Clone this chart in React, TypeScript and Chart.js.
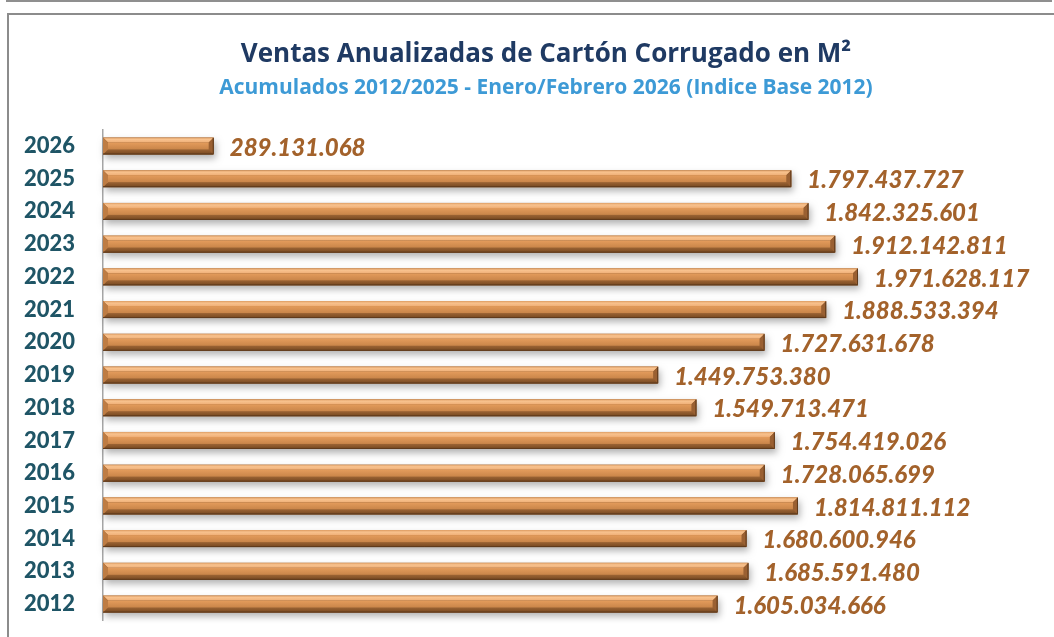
import React, { useEffect, useRef } from "react";
import { Chart, registerables } from "chart.js";

Chart.register(...registerables);

const years = ["2012", "2013", "2014", "2015", "2016", "2017", "2018", "2019", "2020", "2021", "2022", "2023", "2024", "2025", "2026"];
const sales = [
  1605034666, 1685591480, 1680600946, 1814811112, 1728065699, 1754419026, 1549713471, 1449753380,
  1727631678, 1888533394, 1971628117, 1912142811, 1842325601, 1797437727, 289131068,
];
const titleText = "Ventas Anualizadas de Cartón Corrugado en M²";
const subtitleText = "Acumulados 2012/2025 - Enero/Febrero 2026 (Indice Base 2012)";

const fmt = (v: number) => Math.round(v).toString().replace(/\B(?=(\d{3})+(?!\d))/g, ".");

const bevelBars = {
  id: "bevelBars",
  beforeDatasetDraw(chart: any, args: any) {
    const ctx = chart.ctx;
    const meta = args.meta;
    ctx.save();
    meta.data.forEach((el: any) => {
      const p = el.getProps(["x", "y", "base", "height"], true);
      const x0 = Math.min(p.base, p.x);
      const x1 = Math.max(p.base, p.x);
      const t = p.y - p.height / 2;
      const b = p.y + p.height / 2;
      const d = Math.min(5, (x1 - x0) / 2);
      // shadow
      ctx.save();
      ctx.shadowColor = "rgba(0,0,0,0.3)";
      ctx.shadowBlur = 7;
      ctx.shadowOffsetX = 2;
      ctx.shadowOffsetY = 4;
      ctx.fillStyle = "#8a5a30";
      ctx.fillRect(x0, t, x1 - x0, b - t);
      ctx.restore();
      // top bevel
      let g = ctx.createLinearGradient(0, t, 0, t + d);
      g.addColorStop(0, "#DD9C62");
      g.addColorStop(0.4, "#F8C28E");
      g.addColorStop(1, "#F0B078");
      ctx.fillStyle = g;
      ctx.beginPath();
      ctx.moveTo(x0, t); ctx.lineTo(x1, t); ctx.lineTo(x1 - d, t + d); ctx.lineTo(x0 + d, t + d); ctx.closePath();
      ctx.fill();
      // bottom bevel
      g = ctx.createLinearGradient(0, b - d, 0, b);
      g.addColorStop(0, "#9C6434");
      g.addColorStop(1, "#754720");
      ctx.fillStyle = g;
      ctx.beginPath();
      ctx.moveTo(x0, b); ctx.lineTo(x1, b); ctx.lineTo(x1 - d, b - d); ctx.lineTo(x0 + d, b - d); ctx.closePath();
      ctx.fill();
      // left bevel
      ctx.fillStyle = "#BE7C43";
      ctx.beginPath();
      ctx.moveTo(x0, t); ctx.lineTo(x0 + d, t + d); ctx.lineTo(x0 + d, b - d); ctx.lineTo(x0, b); ctx.closePath();
      ctx.fill();
      // right bevel
      ctx.fillStyle = "#9A6032";
      ctx.beginPath();
      ctx.moveTo(x1, t); ctx.lineTo(x1 - d, t + d); ctx.lineTo(x1 - d, b - d); ctx.lineTo(x1, b); ctx.closePath();
      ctx.fill();
      // face
      g = ctx.createLinearGradient(0, t + d, 0, b - d);
      g.addColorStop(0, "#E49C5C");
      g.addColorStop(1, "#C98549");
      ctx.fillStyle = g;
      ctx.fillRect(x0 + d, t + d, x1 - x0 - 2 * d, b - t - 2 * d);
      // outline on right/bottom
      ctx.strokeStyle = "#5E3A1C";
      ctx.lineWidth = 1;
      ctx.beginPath();
      ctx.moveTo(x1 - 0.5, t + 0.5); ctx.lineTo(x1 - 0.5, b - 0.5); ctx.lineTo(x0, b - 0.5);
      ctx.stroke();
    });
    ctx.restore();
    return false;
  },
  afterDatasetsDraw(chart: any) {
    const ctx = chart.ctx;
    const meta = chart.getDatasetMeta(0);
    const data = chart.data.datasets[0].data as number[];
    ctx.save();
    ctx.font = "italic 900 24px Lato";
    ctx.fillStyle = "#A3622B";
    ctx.textAlign = "left";
    ctx.textBaseline = "middle";
    meta.data.forEach((el: any, i: number) => {
      const p = el.getProps(["x", "y"], true);
      ctx.fillText(fmt(data[i]), p.x + 16, p.y + 2);
    });
    ctx.restore();
  },
};

export default function App() {
  const ref = useRef<HTMLCanvasElement | null>(null);
  useEffect(() => {
    document.body.style.margin = "0";
    if (!ref.current) return;
    const chart = new Chart(ref.current, {
      type: "bar",
      data: {
        labels: years,
        datasets: [
          {
            data: sales,
            backgroundColor: "#C98A4F",
            barPercentage: 0.52,
            categoryPercentage: 1,
          },
        ],
      },
      options: {
        indexAxis: "y",
        animation: false,
        responsive: false,
        layout: { padding: { left: 24, right: 26, top: 39, bottom: 16.6 } },
        plugins: {
          legend: { display: false },
          tooltip: { enabled: false },
          title: {
            display: true,
            text: titleText,
            color: "#1F3A63",
            font: { family: "'Open Sans'", size: 26, weight: "700", lineHeight: 1.2 },
            padding: { top: 0, bottom: 4.9 },
          },
          subtitle: {
            display: true,
            text: subtitleText,
            color: "#3D9AD6",
            font: { family: "'Open Sans'", size: 21, weight: "700", lineHeight: 1.2 },
            padding: { top: 0, bottom: 29.3 },
          },
        },
        scales: {
          x: {
            display: false,
            min: 0,
            max: 2520000000,
          },
          y: {
            reverse: true,
            afterFit: (scale: any) => {
              scale.width = 79;
            },
            grid: { display: false, drawTicks: false },
            border: { display: true, color: "#A6A6A6", width: 1.5 },
            ticks: {
              padding: 0,
              crossAlign: "far",
              color: "#1F5566",
              font: { family: "Lato", size: 22, weight: "900" },
            },
          },
        },
      },
      plugins: [bevelBars],
    });
    return () => chart.destroy();
  }, []);

  return (
    <div style={{ position: "relative", width: 1054, height: 637, overflow: "hidden", background: "#fff" }}>
      <div style={{ position: "absolute", left: 6, top: 0, width: 1046, height: 2, background: "#8F8F8F" }} />
      <div
        style={{
          position: "absolute",
          left: 7,
          top: 13,
          width: 1054,
          height: 640,
          borderLeft: "2px solid #8C8C8C",
          borderTop: "2px solid #8C8C8C",
        }}
      />
      <canvas ref={ref} width={1094} height={637} style={{ position: "absolute", left: 0, top: 0 }} />
    </div>
  );
}
